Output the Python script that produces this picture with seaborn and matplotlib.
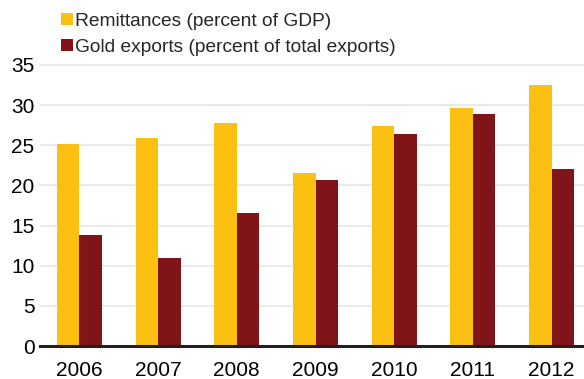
import matplotlib
matplotlib.use("Agg")
import matplotlib.pyplot as plt
import seaborn as sns
import pandas as pd
from matplotlib.patches import Patch

years = ["2006", "2007", "2008", "2009", "2010", "2011", "2012"]
remittances = [25.2, 25.9, 27.8, 21.5, 27.4, 29.6, 32.5]
gold_exports = [13.8, 11.0, 16.6, 20.7, 26.4, 28.9, 22.0]
series_names = ["Remittances (percent of GDP)", "Gold exports (percent of total exports)"]
colors = ["#FBC012", "#811418"]

df = pd.DataFrame({
    "year": years * 2,
    "value": remittances + gold_exports,
    "series": [series_names[0]] * len(years) + [series_names[1]] * len(years),
})

sns.set_theme(style="white")
plt.rcParams["font.family"] = ["Liberation Sans", "DejaVu Sans"]

fig = plt.figure(figsize=(5.84, 3.79), dpi=100)
ax = fig.add_axes([40 / 584, 1 - 346 / 379, 551 / 584, 281 / 379])

sns.barplot(data=df, x="year", y="value", hue="series", palette=colors,
            width=0.57, saturation=1, ax=ax, legend=False,
            edgecolor="none", linewidth=0)

ax.set_ylim(0, 35)
ax.set_xlim(-0.5, len(years) - 0.5)
ax.set_yticks(range(0, 36, 5))
ax.yaxis.grid(True, color="#E6E6E6", linewidth=1.2)
ax.set_axisbelow(True)
for gl in ax.get_ygridlines():
    gl.set_clip_on(False)
ax.set_xlabel("")
ax.set_ylabel("")
for s in ["left", "right", "top"]:
    ax.spines[s].set_visible(False)
ax.spines["bottom"].set_color("#231F20")
ax.spines["bottom"].set_linewidth(2.2)
ax.tick_params(axis="y", length=0, labelsize=15, pad=4, colors="#000000")
ax.tick_params(axis="x", which="major", length=0, labelsize=15, pad=10.5, colors="#000000")
ax.set_xticks([i + 0.5 for i in range(len(years) - 1)], minor=True)
ax.tick_params(axis="x", which="minor", direction="in", length=5, width=1.2, color="#231F20")

handles = [Patch(facecolor=c, edgecolor="none") for c in colors]
fig.legend(handles, series_names, loc="upper left", bbox_to_anchor=(55 / 584, 1 - 7 / 379),
           frameon=False, fontsize=13.8, handlelength=0.62, handleheight=0.62,
           handletextpad=0.12, labelspacing=0.48, borderaxespad=0, borderpad=0.3)

fig.savefig("out.png", dpi=100)
